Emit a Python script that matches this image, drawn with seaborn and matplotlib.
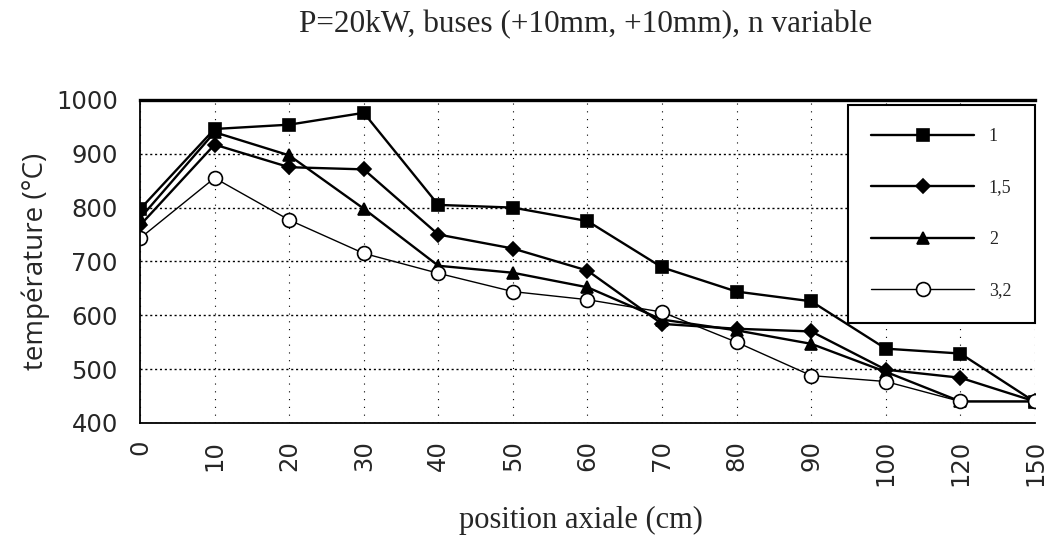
import matplotlib
matplotlib.use("Agg")
import matplotlib.pyplot as plt
import seaborn as sns
import pandas as pd

positions = ["0", "10", "20", "30", "40", "50", "60", "70", "80", "90", "100", "120", "150"]
n_1 = [797, 946, 954, 976, 805, 800, 775, 689, 644, 626, 538, 529, 439]
n_1_5 = [767, 917, 875, 871, 750, 724, 683, 584, 575, 570, 499, 484, 440]
n_2 = [780, 940, 897, 798, 692, 679, 652, 592, 572, 547, 495, 440, 440]
n_3_2 = [743, 855, 777, 715, 678, 644, 629, 606, 550, 488, 477, 440, 440]
labels = ["1", "1,5", "2", "3,2"]
yticks = [400, 500, 600, 700, 800, 900, 1000]

series = [n_1, n_1_5, n_2, n_3_2]
styles = [
    dict(marker="s", markersize=9, mfc="black", lw=1.7),
    dict(marker="D", markersize=7, mfc="black", lw=1.7),
    dict(marker="^", markersize=9, mfc="black", lw=1.7),
    dict(marker="o", markersize=10, mfc="white", lw=1.0),
]

sns.set_style("white")
plt.rcParams["font.family"] = ["Liberation Serif", "DejaVu Serif"]
tick_family = ["DejaVu Sans"]

fig = plt.figure(figsize=(10.55, 5.4), dpi=100)
ax = fig.add_axes([0.1327, 0.2167, 0.8483, 0.5983])

for vals, lab, st in zip(series, labels, styles):
    df = pd.DataFrame({"pos": positions, "T": vals})
    sns.lineplot(data=df, x="pos", y="T", ax=ax, sort=False, color="black",
                 marker=st["marker"], markersize=st["markersize"],
                 markerfacecolor=st["mfc"], markeredgecolor="black",
                 markeredgewidth=1.2, linewidth=st["lw"], label=lab)

ax.set_xlim(0, len(positions) - 1)
ax.set_ylim(400, 1000)
ax.set_yticks(yticks)
ax.set_yticklabels([str(v) for v in yticks], fontsize=17.5, family=tick_family)
ax.set_xticks(range(len(positions)))
ax.set_xticklabels(positions, rotation=90, fontsize=17.5, family=tick_family)
ax.tick_params(axis="both", length=4, width=1, color="black", direction="inout")
ax.tick_params(axis="y", pad=14)
ax.tick_params(axis="x", pad=10)

ax.grid(axis="y", linestyle=(0, (1.5, 2)), color="black", linewidth=1.0)
ax.grid(axis="x", linestyle=(0, (1, 6)), color="black", linewidth=0.8)

for side in ["left", "bottom"]:
    ax.spines[side].set_color("black")
    ax.spines[side].set_linewidth(1.3)
ax.spines["top"].set_color("black")
ax.spines["top"].set_linewidth(2.4)
ax.spines["right"].set_visible(False)

ax.set_xlabel("position axiale (cm)", fontsize=22)
ax.xaxis.label.set_va("baseline")
ax.xaxis.set_label_coords(0.493, -0.326)
ax.set_ylabel("température (°C)", fontsize=20, family=["Open Sans", "DejaVu Sans"])
ax.yaxis.label.set_va("center")
ax.yaxis.set_label_coords(-0.116, 0.5)

fig.text(0.555, 1 - 32 / 540, "P=20kW, buses (+10mm, +10mm), n variable",
         ha="center", va="baseline", fontsize=22.5)

leg = ax.legend(loc="upper right", bbox_to_anchor=(1.0, 0.985), fontsize=13,
                handlelength=5.7, labelspacing=1.9, borderpad=1.3,
                fancybox=False, framealpha=1, edgecolor="black",
                borderaxespad=0.0)
leg.get_frame().set_linewidth(1.5)

fig.savefig("out.png", dpi=100, facecolor="white")
